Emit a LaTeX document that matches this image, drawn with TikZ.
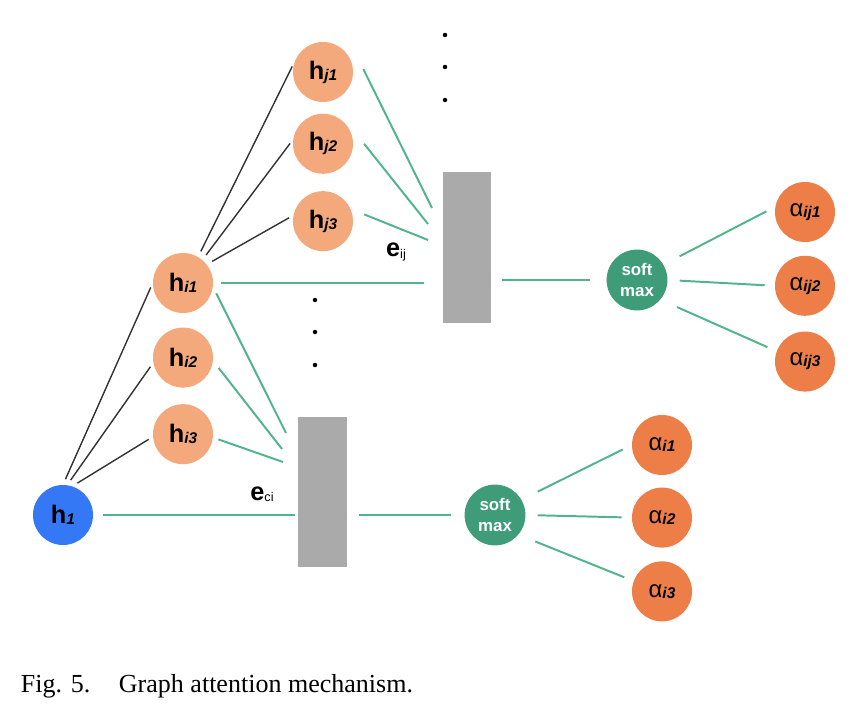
\documentclass[tikz,border=0pt]{standalone}
\usepackage{fontspec}
\setmainfont{Liberation Sans}
\newfontfamily\captionfont{Liberation Serif}
\usetikzlibrary{positioning}

\definecolor{hlight}{HTML}{F4A97C}
\definecolor{adark}{HTML}{EE7E47}
\definecolor{hblue}{HTML}{3478F6}
\definecolor{smgreen}{HTML}{3E9D78}
\definecolor{lgreen}{HTML}{52B48D}
\definecolor{bargray}{HTML}{AAAAAA}
\definecolor{kgray}{HTML}{333333}

\newcommand{\idx}[1]{\raisebox{-0.8pt}{\fontsize{11}{11}\selectfont\bfseries\itshape #1}}

\begin{document}
\begin{tikzpicture}[
  x=0.025cm, y=-0.025cm,
  font=\fontsize{18}{18}\selectfont\bfseries,
  hin/.style={circle, fill=hblue, minimum size=1.5cm, inner sep=0pt},
  hnode/.style={circle, fill=hlight, minimum size=1.5cm, inner sep=0pt},
  anode/.style={circle, fill=adark, minimum size=1.5cm, inner sep=0pt,
    font=\fontsize{17}{17}\selectfont},
  smax/.style={circle, fill=smgreen, minimum size=1.52cm, inner sep=0pt,
    align=center, text=white, font=\fontsize{12}{15}\selectfont\bfseries},
  bar/.style={rectangle, fill=bargray, minimum width=1.2cm,
    minimum height=3.77cm, inner sep=0pt},
  vdot/.style={circle, fill=black, minimum size=3.2pt, inner sep=0pt},
  gline/.style={lgreen, line width=1.4pt},
  sline/.style={gline, shorten <=0.45cm, shorten >=0.25cm},
  kline/.style={kgray, line width=1pt, shorten <=0.15cm, shorten >=0.12cm}
]
\useasboundingbox (0,0) rectangle (860,709);

% Входной узел
\node[hin] (H1) at (63,515) {h\idx{1}};
% Соседи первого порядка
\node[hnode] (HI1) at (183,283) {h\idx{i1}};
\node[hnode, below=0.35cm of HI1] (HI2) {h\idx{i2}};
\node[hnode, below=0.4cm of HI2]  (HI3) {h\idx{i3}};
% Соседи второго порядка
\node[hnode] (HJ1) at (323,72) {h\idx{j1}};
\node[hnode, below=0.28cm of HJ1] (HJ2) {h\idx{j2}};
\node[hnode, below=0.42cm of HJ2] (HJ3) {h\idx{j3}};

% Слои внимания
\node[bar] (BU) at (467,247.5) {};
\node[bar] (BL) at (322.5,492) {};
\node (EIJ) at (396,252) {e\raisebox{-1pt}{\fontsize{9}{9}\selectfont\mdseries ij}};
\node (ECI) at (262,494) {e\raisebox{-1pt}{\fontsize{9}{9}\selectfont\mdseries ci}};

% softmax
\node[smax] (SMU) at (637,280) {soft\\max};
\node[smax] (SML) at (495,515) {soft\\max};

% Коэффициенты внимания
\node[anode] (AIJ1) at (805,212) {α\idx{ij1}};
\node[anode, below=0.33cm of AIJ1] (AIJ2) {α\idx{ij2}};
\node[anode, below=0.38cm of AIJ2] (AIJ3) {α\idx{ij3}};
\node[anode] (AI1) at (662,445) {α\idx{i1}};
\node[anode, below=0.3cm of AI1]  (AI2) {α\idx{i2}};
\node[anode, below=0.33cm of AI2] (AI3) {α\idx{i3}};

% Многоточия
\foreach \y [count=\k] in {35,67,100} {
  \node[vdot] (DU\k) at (445,\y) {};
  \node[vdot] (DL\k) at (315,\y+265) {};
}

% Точки схождения
\coordinate (UJ1) at (432,208);
\coordinate (UJ2) at (428,224);
\coordinate (UJ3) at (428,240);
\coordinate (LI1) at (286,433);
\coordinate (LI2) at (282,449);
\coordinate (LI3) at (283,462);

% Чёрные связи графа
\draw[kline] (H1.90) -- (HI1.180);
\draw[kline] (H1.82) -- (HI2.190);
\draw[kline] (H1.72) -- (HI3.185);
\draw[kline] (HI1.60) -- (HJ1.161);
\draw[kline] (HI1.50) -- (HJ2.172);
\draw[kline] (HI1.38) -- (HJ3.169);

% Зелёные связи
\draw[gline] ([xshift=0.25cm,yshift=0.075cm]HJ1.east) -- (UJ1);
\draw[gline] ([xshift=0.27cm]HJ2.east) -- (UJ2);
\draw[gline] ([xshift=0.27cm,yshift=0.17cm]HJ3.east) -- (UJ3);
\draw[gline, shorten <=0.2cm, shorten >=0.48cm] (HI1.east) -- (HI1.east -| BU.west);
\draw[gline] ([xshift=0.12cm]HI1.-20) -- (LI1);
\draw[gline] ([xshift=0.18cm]HI2.-20) -- (LI2);
\draw[gline] ([xshift=0.14cm]HI3.-10) -- (LI3);
\draw[gline, shorten <=0.25cm, shorten >=0.08cm] (H1.east) -- (H1.east -| BL.west);
\draw[gline, shorten <=0.28cm, shorten >=0.41cm] (BU.east |- SMU) -- (SMU.west);
\draw[gline, shorten <=0.3cm, shorten >=0.34cm] (BL.east |- SML) -- (SML.west);
\draw[sline] (SMU.30) -- (AIJ1.170);
\draw[sline, shorten <=0.3cm] (SMU.0) -- (AIJ2.180);
\draw[sline] (SMU.-40) -- (AIJ3.160);
\draw[sline] (SML.30) -- (AI1.180);
\draw[sline, shorten <=0.3cm] (SML.0) -- (AI2.180);
\draw[sline] (SML.-40) -- (AI3.160);

% Подпись
\node[anchor=base west, font=\captionfont\fontsize{18.5}{18.5}\selectfont] (CAP) at (16,692)
  {Fig. 5.\hspace{1.1em}Graph attention mechanism.};
\end{tikzpicture}
\end{document}
